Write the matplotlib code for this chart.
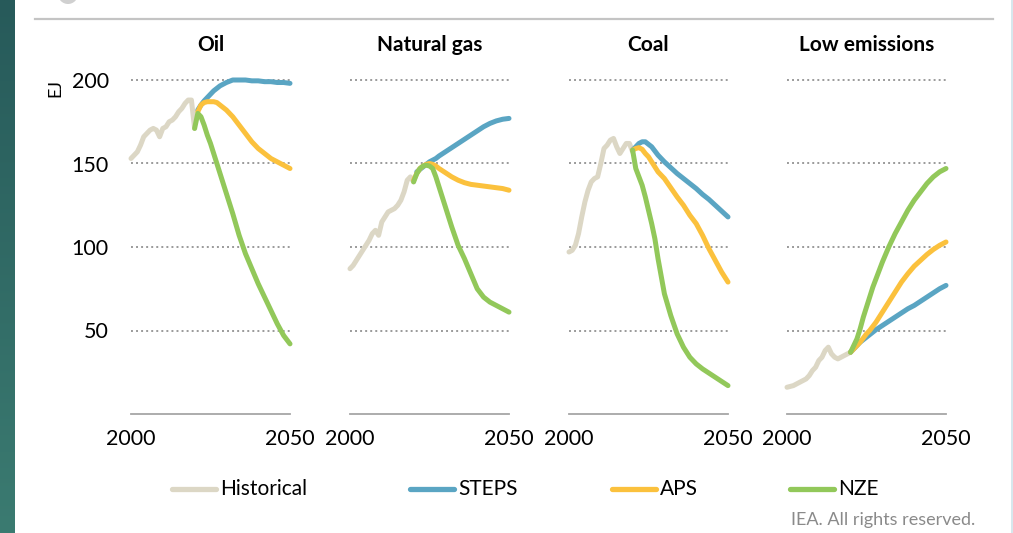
import matplotlib
matplotlib.use("Agg")
import numpy as np
import matplotlib.pyplot as plt
from matplotlib.lines import Line2D
from matplotlib.patches import Ellipse
from matplotlib.colors import LinearSegmentedColormap

plt.rcParams['font.family'] = ['Lato', 'DejaVu Sans']

# ---- data (EJ) ----
panels = ["Oil", "Natural gas", "Coal", "Low emissions"]
series_names = ["Historical", "STEPS", "APS", "NZE"]
series_colors = ["#dcd7c5", "#5aa5c3", "#fbc13d", "#92c85a"]

hist_years = list(range(2000, 2021))
oil_hist = [153, 155, 157, 161, 166, 168, 170, 171, 170, 166, 171, 172, 175, 176, 178, 181, 183, 186, 188, 188, 171]
gas_hist = [87, 89, 92, 95, 98, 101, 104, 108, 110, 107, 115, 118, 121, 122, 123, 125, 128, 133, 140, 142, 139]
coal_hist = [97, 98, 101, 108, 118, 127, 134, 139, 141, 142, 150, 159, 161, 164, 165, 160, 156, 159, 162, 162, 157]
low_hist = [16, 16.5, 17, 18, 19, 20, 21, 23, 26, 28, 32, 34, 38, 40, 36, 34, 33, 34, 35, 36, 37]

scen_years = [2020, 2021, 2022, 2023, 2024, 2025, 2026, 2027, 2028, 2030,
              2032, 2034, 2036, 2038, 2040, 2042, 2044, 2046, 2048, 2050]
nan = np.nan

oil_steps = [nan, 182, 185, 187.5, 189.5, 191.5, 193.5, 195, 196.5, 198.5, 200, 200, 200, 199.5, 199.5, 199, 199, 198.5, 198.5, 198]
oil_aps = [nan, 181, 185, 186.5, 187, 187, 187, 186.5, 185, 182, 178, 173, 168, 163, 159, 156, 153, 151, 149, 147]
oil_nze = [171, 180, 178, 173, 167, 162, 156, 150, 144, 132, 120, 107, 96, 87, 78, 70, 62, 54, 47, 42]

gas_steps = [nan, 145, 146.5, 148, 149.5, 151, 152, 153, 154.5, 157, 159.5, 162, 164.5, 167, 169.5, 172, 174, 175.5, 176.5, 177]
gas_aps = [140, 144, 147, 148.5, 149.5, 150, 149.5, 148.5, 147, 144.5, 142, 140, 138.5, 137.5, 137, 136.5, 136, 135.5, 135, 134]
gas_nze = [139, 144, 147, 148.5, 149, 148.5, 147, 142, 136, 124, 112, 101, 93, 84, 75, 70, 67, 65, 63, 61]

coal_steps = [158, 160, 162, 163, 163, 161.5, 160, 157.5, 155, 151, 147.5, 144, 141, 138, 135, 131.5, 128.5, 125, 121.5, 118]
coal_aps = [158, 159, 159.5, 158.5, 156, 154, 151, 148, 145, 141, 135.5, 130, 125, 119, 114, 107, 99, 92, 85, 79]
coal_nze = [158, 147, 142, 137, 130, 122, 114, 105, 93, 72, 59, 48, 40, 34, 30, 27, 24.5, 22, 19.5, 17]

low_steps = [37, 39, 41, 43, 44.5, 46, 47.5, 49, 50.5, 53, 55.5, 58, 60.5, 63, 65, 67.5, 70, 72.5, 75, 77]
low_aps = [37, 39, 41, 43, 45.5, 48, 50, 52.5, 55, 61, 67, 73, 79, 84, 88.5, 92, 95.5, 98.5, 101, 103]
low_nze = [37, 41, 45, 51, 58, 64, 70, 76, 81, 91, 100, 108, 115, 122, 128, 133, 138, 142, 145, 147]

y_ticks = [50, 100, 150, 200]
x_ticks = [2000, 2050]
unit_label = "EJ"
credit = "IEA. All rights reserved."

panel_data = [
    (oil_hist, oil_steps, oil_aps, oil_nze),
    (gas_hist, gas_steps, gas_aps, gas_nze),
    (coal_hist, coal_steps, coal_aps, coal_nze),
    (low_hist, low_steps, low_aps, low_nze),
]

# ---- figure ----
W, H = 1013, 533
fig = plt.figure(figsize=(W / 100, H / 100), dpi=100)
fig.patch.set_facecolor("white")


def fx(px):
    return px / W


def fy(py):
    return 1 - py / H


# dark teal strip on the left edge
strip = fig.add_axes([0, 0, fx(14), 1])
grad = np.linspace(0, 1, 256).reshape(-1, 1)
teal = LinearSegmentedColormap.from_list("teal", ["#3b7b71", "#275a5a"])
strip.imshow(grad, aspect="auto", cmap=teal, origin="lower", extent=[0, 1, 0, 1])
strip.axis("off")

# thin light edge on the right
fig.add_artist(Line2D([fx(1011.5), fx(1011.5)], [0, 1], color="#cfe3ea", lw=1.2))
# header rule
fig.add_artist(Line2D([fx(35), fx(993)], [fy(18.5), fy(18.5)], color="#c4c4c4", lw=1.6))
fig.add_artist(Ellipse((fx(68), fy(-6)), 20 / W, 20 / H, color="#d0d0d0", lw=0))

lefts = [131, 350, 569, 787]
axw = 159
y_bottom = 414
ymax = 210
px_per_unit = 334 / 200
axh = ymax * px_per_unit

for i, (name, data) in enumerate(zip(panels, panel_data)):
    ax = fig.add_axes([fx(lefts[i]), fy(y_bottom), fx(axw), axh / H])
    ax.set_xlim(2000, 2050)
    ax.set_ylim(0, ymax)
    for y in y_ticks:
        ax.axhline(y, color="#9a9a9a", lw=1.4, ls=(0, (1, 1.6)), zorder=1)
    hist, steps, aps, nze = data
    ax.plot(hist_years, hist, color=series_colors[0], lw=3.6, solid_capstyle="round",
            solid_joinstyle="round", zorder=3, clip_on=False)
    for vals, col in zip((steps, aps, nze), series_colors[1:]):
        ax.plot(scen_years, vals, color=col, lw=3.6, solid_capstyle="round",
                solid_joinstyle="round", zorder=4, clip_on=False)
    for side in ("top", "right", "left"):
        ax.spines[side].set_visible(False)
    ax.spines["bottom"].set_color("#a6a6a6")
    ax.spines["bottom"].set_linewidth(1.3)
    ax.set_yticks(y_ticks)
    ax.set_xticks(x_ticks)
    ax.tick_params(axis="both", length=0, labelsize=15.5, colors="black")
    ax.tick_params(axis="x", pad=11)
    ax.tick_params(axis="y", pad=16)
    if i > 0:
        ax.tick_params(axis="y", labelleft=False)
    ax.patch.set_alpha(0)
    fig.text(fx(lefts[i] + axw / 2), fy(45), name, ha="center", va="center",
             fontsize=15, fontweight="bold")

fig.text(fx(55), fy(88), unit_label, rotation=90, ha="center", va="center", fontsize=13)

# legend row
leg_x = [172, 410, 612, 790]
leg_y = 489
for x0, name, col in zip(leg_x, series_names, series_colors):
    fig.add_artist(Line2D([fx(x0), fx(x0 + 44)], [fy(leg_y), fy(leg_y)], color=col,
                          lw=3.8, solid_capstyle="round"))
    fig.text(fx(x0 + 48), fy(leg_y), name, ha="left", va="center", fontsize=15)

fig.text(fx(975), fy(520), credit, ha="right", va="center", fontsize=13, color="#8a8a8a")

fig.savefig("out.png", dpi=100)
